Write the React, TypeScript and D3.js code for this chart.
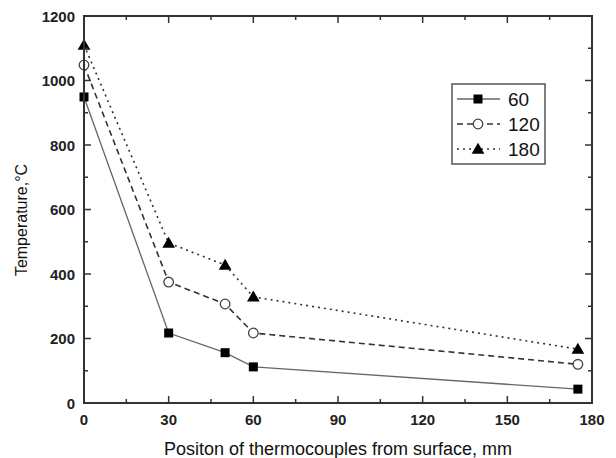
import React from "react";
import * as d3 from "d3";

const positions = [0, 30, 50, 60, 175];
const seriesNames = ["60", "120", "180"];
const values60 = [949, 217, 156, 112, 43];
const values120 = [1048, 375, 307, 217, 120];
const values180 = [1110, 496, 428, 329, 167];
const xTicks = [0, 30, 60, 90, 120, 150, 180];
const yTicks = [0, 200, 400, 600, 800, 1000, 1200];
const xLabel = "Positon of thermocouples from surface, mm";
const yLabel = "Temperature,°C";

const W = 616, H = 458;
const M = { left: 84, right: 592, top: 16, bottom: 403 };

const styles = [
  { dash: "none", color: "#666", marker: "square", width: 1.3 },
  { dash: "6,4", color: "#333", marker: "circle", width: 1.6 },
  { dash: "2,4", color: "#333", marker: "triangle", width: 1.6 },
];

function Marker({ type, x, y }: { type: string; x: number; y: number }) {
  if (type === "square") return <rect x={x - 4.5} y={y - 4.5} width={9} height={9} fill="#000" />;
  if (type === "circle") return <circle cx={x} cy={y} r={4.8} fill="#fff" stroke="#444" strokeWidth={1.3} />;
  const p = d3.symbol(d3.symbolTriangle, 70)();
  return <path d={p || ""} transform={`translate(${x},${y + 1})`} fill="#000" />;
}

export default function App() {
  const x = d3.scaleLinear().domain([0, 180]).range([M.left, M.right]);
  const y = d3.scaleLinear().domain([0, 1200]).range([M.bottom, M.top]);
  const all = [values60, values120, values180];
  const line = d3.line<number>().x((_, i) => x(positions[i])).y((d) => y(d));
  const xMinor = d3.range(15, 180, 30);
  const yMinor = d3.range(100, 1200, 200);
  const axisColor = "#333";
  const font = "'Liberation Sans', Arial, sans-serif";
  const legX = 452, legY = 84, legW = 93, legH = 80;

  return (
    <svg width={W} height={H} style={{ position: "absolute", left: 0, top: 0, background: "#fff" }} fontFamily={font}>
      <rect width={W} height={H} fill="#fff" />
      {all.map((vals, si) => (
        <g key={si}>
          <path d={line(vals) || ""} fill="none" stroke={styles[si].color} strokeWidth={styles[si].width} strokeDasharray={styles[si].dash} />
          {vals.map((v, i) => (
            <Marker key={i} type={styles[si].marker} x={x(positions[i])} y={y(v)} />
          ))}
        </g>
      ))}
      {/* ticks */}
      {xTicks.map((t) => (
        <g key={"xt" + t}>
          <line x1={x(t)} x2={x(t)} y1={M.bottom} y2={M.bottom - 7} stroke={axisColor} strokeWidth={1.5} />
          <line x1={x(t)} x2={x(t)} y1={M.top} y2={M.top + 7} stroke={axisColor} strokeWidth={1.5} />
          <text x={x(t)} y={425} textAnchor="middle" fontSize={15} fontWeight="bold" fill="#222">{t}</text>
        </g>
      ))}
      {xMinor.map((t) => (
        <g key={"xm" + t}>
          <line x1={x(t)} x2={x(t)} y1={M.bottom} y2={M.bottom - 4} stroke={axisColor} strokeWidth={1.5} />
          <line x1={x(t)} x2={x(t)} y1={M.top} y2={M.top + 4} stroke={axisColor} strokeWidth={1.5} />
        </g>
      ))}
      {yTicks.map((t) => (
        <g key={"yt" + t}>
          <line x1={M.left} x2={M.left + 7} y1={y(t)} y2={y(t)} stroke={axisColor} strokeWidth={1.5} />
          <line x1={M.right} x2={M.right - 7} y1={y(t)} y2={y(t)} stroke={axisColor} strokeWidth={1.5} />
          <text x={75} y={y(t) + 5.5} textAnchor="end" fontSize={15} fontWeight="bold" fill="#222">{t}</text>
        </g>
      ))}
      {yMinor.map((t) => (
        <g key={"ym" + t}>
          <line x1={M.left} x2={M.left + 4} y1={y(t)} y2={y(t)} stroke={axisColor} strokeWidth={1.5} />
          <line x1={M.right} x2={M.right - 4} y1={y(t)} y2={y(t)} stroke={axisColor} strokeWidth={1.5} />
        </g>
      ))}
      <rect x={M.left} y={M.top} width={M.right - M.left} height={M.bottom - M.top} fill="none" stroke={axisColor} strokeWidth={2} />
      {/* legend */}
      <rect x={legX} y={legY} width={legW} height={legH} fill="#fff" stroke="#555" strokeWidth={1.5} />
      {seriesNames.map((n, i) => {
        const ly = 99 + i * 25;
        return (
          <g key={n}>
            <line x1={457} x2={500} y1={ly} y2={ly} stroke={styles[i].color} strokeWidth={styles[i].width} strokeDasharray={styles[i].dash} />
            <Marker type={styles[i].marker} x={478} y={ly} />
            <text x={508} y={ly + 7} fontSize={19} fill="#111">{n}</text>
          </g>
        );
      })}
      <text x={(M.left + M.right) / 2} y={455} textAnchor="middle" fontSize={18} fill="#111">{xLabel}</text>
      <text transform={`translate(27,220) rotate(-90)`} textAnchor="middle" fontSize={16} fill="#111">{yLabel}</text>
    </svg>
  );
}
